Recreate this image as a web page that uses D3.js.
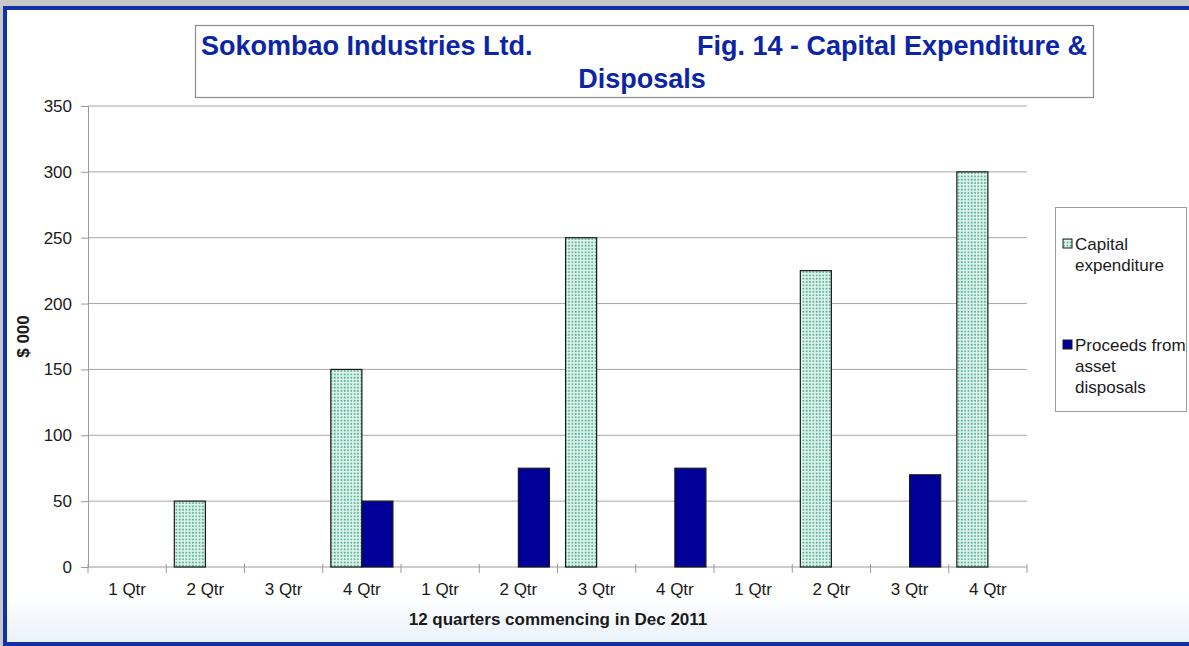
<!DOCTYPE html>
<html>
<head>
<meta charset="utf-8">
<script src="https://cdn.jsdelivr.net/npm/d3@7"></script>
<style>
  html, body { margin: 0; padding: 0; background: #c8c8c8; }
  svg { display: block; font-family: "Liberation Sans", Arial, sans-serif; }
</style>
</head>
<body>
<svg id="chart" width="1189" height="646"></svg>
<script>
// Quarter labels along the category axis
const quarters = ["1 Qtr", "2 Qtr", "3 Qtr", "4 Qtr", "1 Qtr", "2 Qtr", "3 Qtr", "4 Qtr", "1 Qtr", "2 Qtr", "3 Qtr", "4 Qtr"];
// Values in $ 000 per quarter
const capitalExpenditure = [0, 50, 0, 150, 0, 0, 250, 0, 0, 225, 0, 300];
const assetDisposals = [0, 0, 0, 50, 0, 75, 0, 75, 0, 0, 70, 0];
const seriesNames = ["Capital expenditure", "Proceeds from asset disposals"];
const yTicks = [0, 50, 100, 150, 200, 250, 300, 350];

const svg = d3.select("#chart");
const W = 1189, H = 646;

// Dotted fill for capital expenditure bars
const defs = svg.append("defs");
const pat = defs.append("pattern")
  .attr("id", "dots").attr("patternUnits", "userSpaceOnUse")
  .attr("width", 3.3).attr("height", 3.3);
pat.append("rect").attr("width", 3.3).attr("height", 3.3).attr("fill", "#dff7ec");
pat.append("rect").attr("x", 0.6).attr("y", 0.6).attr("width", 1.7).attr("height", 1.7).attr("fill", "#4fa493");

const haze = defs.append("linearGradient").attr("id", "haze")
  .attr("x1", 0).attr("y1", 0).attr("x2", 0).attr("y2", 1);
haze.append("stop").attr("offset", "0").attr("stop-color", "#ffffff");
haze.append("stop").attr("offset", "1").attr("stop-color", "#eaf2fb");

// Page frame
svg.append("rect").attr("x", 0).attr("y", 0).attr("width", W).attr("height", H).attr("fill", "#c8c8c8");
svg.append("rect").attr("x", 5).attr("y", 8).attr("width", W + 20).attr("height", 636)
  .attr("fill", "#ffffff").attr("stroke", "#1430a6").attr("stroke-width", 4);
svg.append("rect").attr("x", 7).attr("y", 596).attr("width", W).attr("height", 46).attr("fill", "url(#haze)");

// Plot area
const x0 = 88, x1 = 1027, yTop = 106, yBot = 567;
const x = d3.scaleBand().domain(d3.range(quarters.length)).range([x0, x1]).padding(0);
const xs = d3.scaleBand().domain([0, 1]).range([0, x.bandwidth()]).paddingInner(0).paddingOuter(0.26);
const y = d3.scaleLinear().domain([0, 350]).range([yBot, yTop]);

// Gridlines
svg.append("g").selectAll("line").data(yTicks.filter(d => d > 0)).join("line")
  .attr("x1", x0).attr("x2", x1)
  .attr("y1", d => y(d)).attr("y2", d => y(d))
  .attr("stroke", "#a6a6a6").attr("stroke-width", 1);

// Y axis
const yAxis = svg.append("g").attr("transform", `translate(${x0},0)`)
  .call(d3.axisLeft(y).tickValues(yTicks).tickSize(7).tickPadding(9));
yAxis.select(".domain").attr("stroke", "#9a9a9a");
yAxis.selectAll(".tick line").attr("stroke", "#9a9a9a");
yAxis.selectAll("text").attr("font-size", 17).attr("fill", "#1a1a1a")
  .attr("font-family", "Liberation Sans, Arial, sans-serif");

// X axis: ticks between categories
const xAxisG = svg.append("g");
xAxisG.append("line").attr("x1", x0).attr("x2", x1).attr("y1", yBot).attr("y2", yBot)
  .attr("stroke", "#9a9a9a");
const boundaries = d3.range(quarters.length + 1).map(i => i < quarters.length ? x(i) : x1);
xAxisG.selectAll("line.tk").data(boundaries).join("line").attr("class", "tk")
  .attr("x1", d => d).attr("x2", d => d).attr("y1", yBot - 3).attr("y2", yBot + 6)
  .attr("stroke", "#9a9a9a");
xAxisG.selectAll("text").data(quarters).join("text")
  .attr("x", (d, i) => x(i) + x.bandwidth() / 2).attr("y", 595)
  .attr("text-anchor", "middle").attr("font-size", 17).attr("fill", "#1a1a1a")
  .text(d => d);

// Bars
const series = [
  { values: capitalExpenditure, fill: "url(#dots)" },
  { values: assetDisposals, fill: "#000099" }
];
series.forEach((s, si) => {
  svg.append("g").selectAll("rect").data(s.values.map((v, i) => ({ v, i })).filter(d => d.v > 0)).join("rect")
    .attr("x", d => x(d.i) + xs(si))
    .attr("width", xs.bandwidth())
    .attr("y", d => y(d.v))
    .attr("height", d => yBot - y(d.v))
    .attr("fill", s.fill)
    .attr("stroke", "#1a1a1a").attr("stroke-width", 1.2);
});

// Title box
svg.append("rect").attr("x", 195.5).attr("y", 25.5).attr("width", 898).attr("height", 72)
  .attr("fill", "#ffffff").attr("stroke", "#8c8c8c").attr("stroke-width", 1.2);
const title = svg.append("g").attr("font-weight", "bold").attr("font-size", 27).attr("fill", "#0b25a6");
title.append("text").attr("x", 201).attr("y", 55).text("Sokombao Industries Ltd.");
title.append("text").attr("x", 1087).attr("y", 55).attr("text-anchor", "end").text("Fig. 14 - Capital Expenditure &");
title.append("text").attr("x", 642).attr("y", 88).attr("text-anchor", "middle").text("Disposals");

// Axis titles
svg.append("text").attr("transform", `translate(29,${(yTop + yBot) / 2}) rotate(-90)`)
  .attr("text-anchor", "middle").attr("font-weight", "bold").attr("font-size", 17).attr("fill", "#1a1a1a")
  .text("$ 000");
svg.append("text").attr("x", 558).attr("y", 625).attr("text-anchor", "middle")
  .attr("font-weight", "bold").attr("font-size", 17).attr("fill", "#1a1a1a")
  .text("12 quarters commencing in Dec 2011");

// Legend
const lg = svg.append("g");
lg.append("rect").attr("x", 1055.5).attr("y", 207.5).attr("width", 131).attr("height", 204)
  .attr("fill", "#ffffff").attr("stroke", "#9a9a9a");
const legendLines = [["Capital", "expenditure"], ["Proceeds from", "asset", "disposals"]];
const legendTop = [250, 351];
legendLines.forEach((lines, k) => {
  lg.append("rect").attr("x", 1063).attr("y", legendTop[k] - 11).attr("width", 9).attr("height", 9)
    .attr("fill", series[k].fill).attr("stroke", "#1a1a1a").attr("stroke-width", 1);
  const t = lg.append("text").attr("font-size", 17).attr("fill", "#1a1a1a");
  lines.forEach((ln, j) => {
    t.append("tspan").attr("x", 1075).attr("y", legendTop[k] + j * 21).text(ln);
  });
});
</script>
</body>
</html>
